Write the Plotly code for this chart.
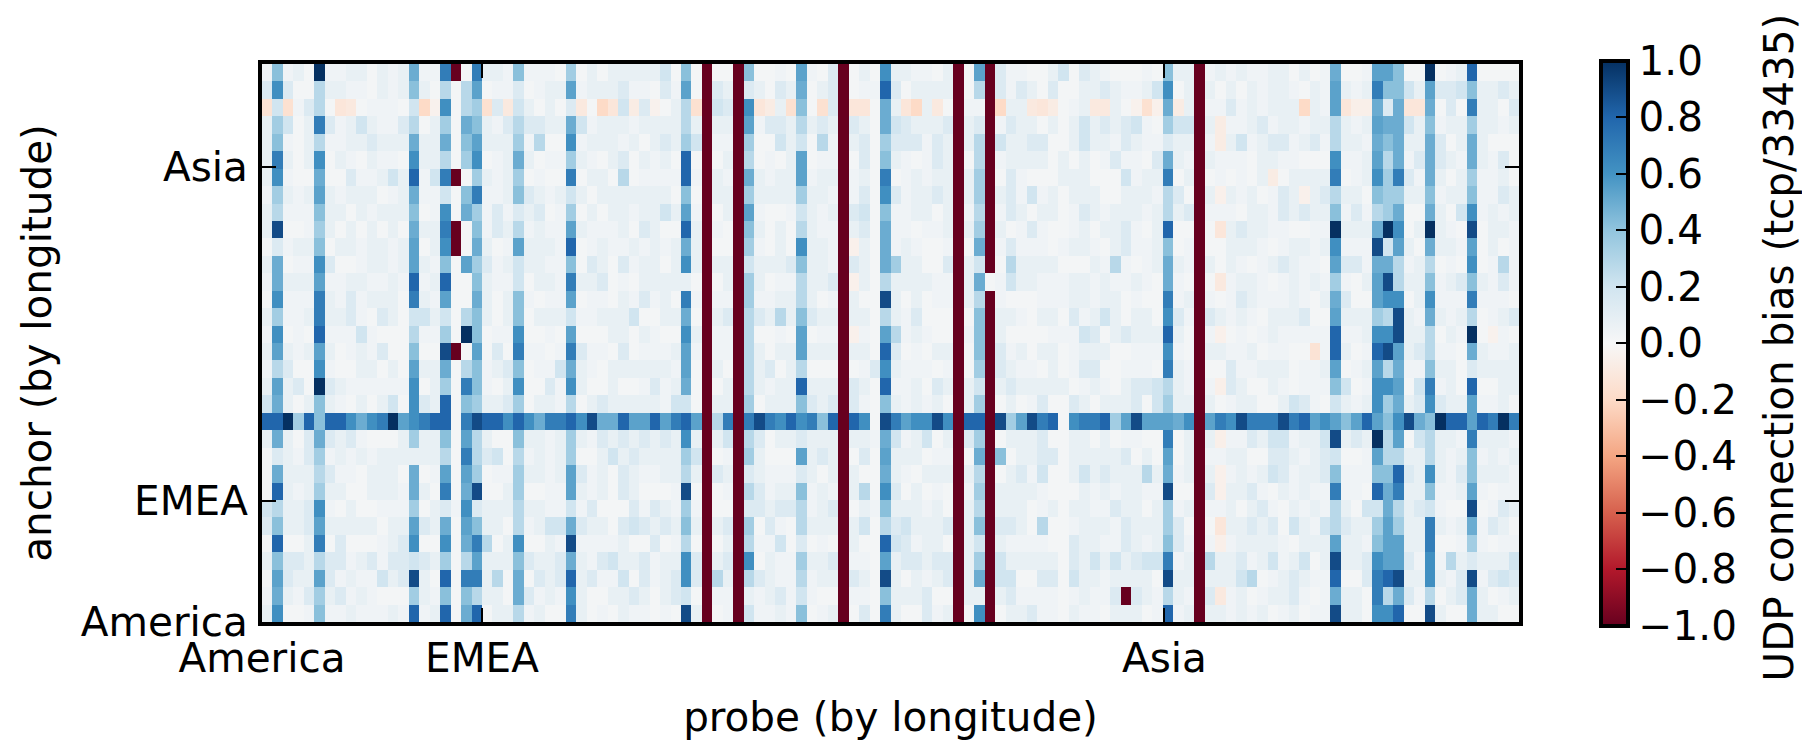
import plotly.graph_objects as go

# values in hundredths of the bias, rows listed from the top of the picture down
row_00 = [4,42,4,8,2,100,4,4,8,8,  2,8,4,8,50,4,4,70,-100,2,  70,8,8,4,42,4,4,4,2,35,  2,8,2,8,8,8,8,8,20,2,  42,2,-100,2,2,-100,42,2,2,4,  2,54,4,2,14,-100,2,8,2,62,  8,8,4,4,2,8,-100,2,54,-100,  14,4,4,2,2,8,20,2,14,8,  4,2,2,2,4,2,42,8,8,-100,  4,8,4,8,4,4,8,8,2,8,  2,4,50,2,2,4,54,54,42,2,  2,100,2,4,8,80,2,2,2,2]
row_01 = [14,62,14,2,2,28,8,8,4,4,  2,8,4,8,42,8,2,28,2,28,  54,2,4,4,14,2,4,8,8,54,  4,8,8,8,14,4,4,2,14,4,  54,2,-100,14,8,-100,14,8,2,14,  8,50,2,8,14,-100,2,4,4,80,  14,2,8,8,8,8,-100,2,28,-100,  14,4,14,8,2,14,2,2,8,8,  14,8,4,4,8,20,62,2,8,-100,  8,2,8,2,8,4,8,8,4,2,  8,4,54,8,4,8,70,42,42,20,  8,54,14,14,20,42,8,8,14,8]
row_02 = [-14,20,-16,4,14,28,2,-12,-10,2,  4,4,4,2,20,-20,-4,62,2,28,  35,-16,14,-10,20,8,2,8,2,14,  -10,2,-20,-12,20,-8,14,-4,2,8,  28,-16,-100,20,14,-100,62,-12,-8,8,  -16,42,2,-16,14,-100,-12,-12,2,50,  8,-12,-20,8,-10,2,-100,4,4,-100,  -20,8,8,-10,-12,-8,2,4,8,-10,  -10,8,2,-4,-16,-5,50,-8,8,-100,  4,4,14,4,8,4,8,8,8,-20,  8,4,54,-12,-6,-6,50,14,50,-12,  -12,50,2,14,2,70,8,8,2,14]
row_03 = [8,35,20,2,8,70,14,4,8,20,  8,4,4,14,28,2,8,35,2,50,  42,8,4,14,28,14,14,8,8,50,  20,4,8,8,8,4,8,8,8,8,  28,8,-100,8,8,-100,54,4,14,14,  8,28,8,14,8,-100,14,8,2,50,  20,14,8,8,8,14,-100,8,14,-100,  4,14,8,8,2,8,2,8,20,8,  14,8,14,20,4,2,35,20,20,-100,  8,-8,4,4,8,14,4,8,8,4,  8,8,28,8,4,8,54,50,50,20,  8,42,4,8,8,35,8,8,4,8]
row_04 = [8,42,4,2,8,28,4,4,8,8,  14,8,8,8,50,8,8,50,2,42,  54,8,8,8,35,4,28,2,2,62,  4,8,8,8,4,8,2,8,14,8,  35,20,-100,4,4,-100,35,2,2,20,  8,20,2,28,4,-100,8,14,2,35,  14,14,14,4,14,8,-100,8,28,-100,  20,8,8,14,14,2,2,8,20,8,  8,4,14,8,4,4,14,8,8,-100,  4,-8,8,20,4,8,14,14,4,8,  14,4,28,8,8,4,50,42,50,8,  8,50,14,2,8,50,8,2,2,2]
row_05 = [8,70,8,2,8,62,2,8,4,2,  8,4,4,2,62,8,8,28,2,35,  62,2,4,8,50,8,2,4,4,35,  8,4,2,8,14,2,8,4,8,2,  80,2,-100,2,8,-100,28,2,4,2,  8,54,2,4,4,-100,2,14,2,42,  8,4,2,4,14,8,-100,2,28,-100,  4,8,8,8,8,2,8,2,8,2,  4,14,4,4,2,14,50,8,4,-100,  8,4,4,4,2,8,8,4,4,2,  2,2,62,4,4,8,54,28,50,4,  14,50,14,8,4,50,8,4,14,2]
row_06 = [8,62,4,2,2,50,2,2,14,4,  4,8,20,8,80,4,20,70,-100,2,  35,8,4,8,35,2,4,2,2,70,  2,8,8,2,28,2,4,4,4,4,  80,4,-100,8,4,-100,50,8,4,8,  8,54,4,8,8,-100,4,8,2,70,  2,4,8,4,8,8,-100,8,35,-100,  2,14,4,2,2,2,8,8,8,2,  2,2,20,4,8,8,70,2,8,-100,  2,4,2,4,2,8,-8,2,8,8,  8,8,70,2,4,8,62,35,70,14,  4,50,8,2,8,35,4,4,8,2]
row_07 = [4,35,8,4,8,54,8,4,8,8,  8,2,4,8,50,4,4,20,2,42,  70,4,4,8,42,14,8,4,8,20,  8,2,8,8,8,8,8,8,8,2,  42,2,-100,8,8,-100,35,8,8,8,  8,35,8,8,4,-100,4,14,2,62,  14,4,8,8,14,8,-100,8,35,-100,  8,14,4,20,4,8,2,8,8,8,  2,2,8,8,8,4,28,14,2,-100,  8,-5,8,4,8,2,4,14,8,-5,  8,14,28,8,8,2,42,35,35,8,  8,42,4,8,8,42,4,4,14,8]
row_08 = [8,28,4,4,4,42,8,8,2,8,  4,8,8,8,42,2,4,62,2,50,  35,4,14,4,14,8,14,2,4,35,  2,8,2,8,8,4,8,8,20,8,  54,4,-100,2,8,-100,54,4,2,2,  4,20,8,4,8,-100,14,20,2,42,  4,4,8,8,2,8,-100,4,28,-100,  4,14,8,2,8,8,2,4,14,8,  4,8,8,8,4,8,28,8,14,-100,  4,4,4,2,8,8,4,14,8,14,  8,8,42,4,14,4,28,35,50,2,  2,50,8,2,20,62,4,8,4,8]
row_09 = [8,90,2,2,4,35,8,2,8,2,  8,2,8,2,50,8,8,70,-100,2,  42,4,14,8,28,4,8,4,4,54,  8,4,4,4,8,2,14,8,2,2,  80,8,-100,4,2,-100,42,8,2,8,  2,28,8,4,4,-100,8,14,2,50,  4,4,2,4,4,8,-100,8,35,-100,  8,2,4,14,4,2,2,4,8,2,  8,8,14,4,2,8,80,2,2,-100,  2,-12,8,14,8,8,4,4,2,2,  4,4,100,8,8,8,50,100,62,2,  8,100,8,4,2,90,2,8,8,4]
row_10 = [2,14,4,8,8,42,2,8,8,4,  8,8,4,8,54,2,8,62,-100,2,  50,8,2,4,54,8,8,8,4,80,  2,4,8,4,4,8,4,8,4,8,  50,8,-100,2,2,-100,35,4,2,8,  2,62,8,8,4,-100,-5,8,2,50,  4,8,4,2,2,4,-100,2,50,-100,  4,14,4,4,4,2,4,8,8,4,  2,8,14,4,4,8,42,2,4,-100,  2,2,8,8,8,4,2,4,8,8,  4,8,62,4,4,4,90,20,54,8,  2,50,8,8,4,54,2,8,2,4]
row_11 = [8,50,2,4,4,62,14,2,2,4,  8,8,4,8,54,8,4,42,2,54,  35,14,4,8,20,8,8,4,4,42,  2,14,8,2,14,4,8,8,2,8,  62,8,-100,8,8,-100,20,8,8,8,  14,42,8,8,4,-100,14,8,2,50,  35,8,8,2,2,14,-100,8,20,-100,  2,28,8,8,8,8,2,2,2,8,  4,28,4,2,4,8,50,8,4,-100,  8,2,8,4,2,4,8,14,8,4,  4,2,54,14,14,4,50,50,28,4,  8,28,2,4,2,62,2,4,28,4]
row_12 = [4,50,8,8,8,54,4,4,8,8,  4,4,8,4,80,4,8,80,2,2,  42,8,4,4,20,2,8,8,4,70,  8,8,14,2,4,2,8,8,8,8,  8,2,-100,2,8,-100,35,8,2,4,  4,28,8,8,14,-100,-5,8,2,28,  8,8,8,8,4,4,-100,8,50,2,  4,20,8,8,4,4,4,8,8,4,  8,4,4,8,4,2,50,4,2,-100,  2,-10,4,8,8,4,2,4,8,4,  8,4,35,4,2,8,54,90,28,8,  8,42,4,8,14,42,8,4,14,4]
row_13 = [2,62,4,4,4,70,8,4,14,4,  8,8,8,2,70,8,4,54,2,2,  50,8,2,8,42,4,2,4,4,54,  2,4,4,2,8,4,14,4,8,2,  70,4,-100,4,4,-100,35,4,4,8,  8,28,8,2,4,-100,8,2,2,90,  8,2,8,2,4,4,-100,8,28,-100,  4,2,2,2,4,4,4,8,8,4,  8,8,2,4,2,2,70,4,8,-100,  4,2,4,14,8,4,4,4,8,4,  2,8,50,14,2,2,54,62,62,2,  8,62,4,4,4,70,4,4,4,2]
row_14 = [8,35,4,4,8,70,8,8,14,4,  2,14,8,2,20,20,8,20,2,28,  42,8,2,8,42,2,8,8,8,20,  4,4,8,8,8,20,2,2,8,8,  50,2,-100,8,14,-100,28,14,8,28,  8,42,14,8,8,-100,8,8,2,28,  8,4,14,2,2,2,-100,2,42,-100,  8,8,4,2,8,8,2,14,4,8,  20,8,2,8,8,2,62,14,4,-100,  14,8,4,8,4,2,8,8,8,14,  2,2,54,8,8,8,35,28,90,8,  4,50,8,4,8,28,2,4,8,14]
row_15 = [4,62,2,4,2,80,4,4,4,20,  4,2,2,2,28,4,4,35,2,100,  42,2,4,4,62,2,2,4,2,54,  2,2,2,8,8,2,8,4,2,2,  62,8,-100,4,4,-100,28,2,2,4,  2,54,2,4,4,-100,-5,4,2,54,  28,4,8,4,2,2,-100,4,42,-100,  8,2,2,2,2,4,4,4,20,14,  2,8,14,8,8,8,80,8,2,-100,  4,-5,2,4,2,4,8,4,4,4,  4,4,80,4,4,8,62,62,90,8,  8,28,2,8,4,100,2,-4,4,2]
row_16 = [8,54,8,4,8,54,8,2,4,8,  4,14,2,2,42,2,2,90,-100,2,  54,2,14,2,70,4,4,2,4,70,  14,4,4,2,14,2,4,4,4,8,  54,4,-100,4,4,-100,28,8,2,8,  8,54,8,8,8,-100,8,8,2,80,  14,2,4,2,8,8,-100,2,42,-100,  14,4,8,2,8,8,2,4,8,8,  8,2,2,4,4,4,62,4,2,-100,  8,8,4,4,8,2,4,4,2,2,  -14,4,80,8,2,4,80,90,54,8,  14,28,4,4,2,50,8,4,4,8]
row_17 = [4,28,14,2,2,62,4,2,2,8,  8,2,8,2,54,8,8,50,2,28,  42,4,8,14,42,2,4,4,20,50,  8,4,2,8,8,8,8,8,8,4,  54,2,-100,8,2,-100,28,8,14,2,  8,28,2,2,2,-100,2,4,14,62,  8,4,4,4,2,4,-100,2,35,-100,  14,8,4,4,2,8,2,4,14,14,  2,2,4,4,4,2,70,8,4,-100,  2,2,14,4,4,8,8,8,2,4,  4,8,54,2,4,8,54,28,50,4,  4,42,8,8,2,14,8,8,8,8]
row_18 = [8,54,8,14,2,100,14,8,4,4,  4,4,4,4,62,2,8,35,2,70,  42,4,2,8,62,2,2,14,4,62,  8,2,2,8,2,2,4,14,4,8,  50,2,-100,2,8,-100,28,8,4,8,  8,80,8,8,8,-100,14,8,2,80,  4,4,8,2,14,8,-100,8,20,-100,  8,14,8,8,8,8,8,2,4,8,  4,2,8,14,14,20,28,8,4,-100,  4,-6,14,8,2,2,8,4,2,4,  4,4,42,20,2,4,62,62,54,2,  20,70,4,8,2,80,2,2,8,8]
row_19 = [20,50,8,2,8,42,8,4,2,8,  2,8,20,2,62,14,8,80,2,42,  35,8,8,14,35,2,8,8,4,28,  2,8,14,8,8,8,8,8,4,20,  20,2,-100,8,8,-100,35,2,8,8,  8,42,14,8,14,-100,14,4,2,42,  8,4,8,4,8,2,-100,8,35,-100,  2,8,2,4,14,2,2,14,8,2,  8,8,8,14,2,20,35,8,8,-100,  8,2,4,8,8,2,2,8,20,14,  4,2,20,8,4,8,62,35,50,8,  14,62,14,8,8,54,4,4,8,2]
row_20 = [80,80,100,35,80,42,80,80,62,50,  62,70,100,54,62,70,80,80,2,70,  90,80,80,62,80,62,50,70,70,80,  62,90,50,50,80,54,54,80,54,70,  80,54,-100,28,70,-100,70,90,70,62,  80,62,70,42,80,-100,80,62,2,90,  70,54,62,62,90,62,-100,80,80,-100,  90,35,54,90,70,80,2,62,70,70,  80,35,54,90,54,54,54,50,62,-100,  54,70,62,90,70,70,70,90,70,80,  54,62,54,42,54,80,54,42,62,90,  50,42,100,80,80,54,80,70,100,70]
row_21 = [8,50,8,2,14,50,14,8,14,4,  2,2,2,8,35,8,8,42,2,54,  28,8,2,2,42,8,8,4,8,35,  8,4,14,8,14,8,14,8,14,8,  62,8,-100,8,20,-100,28,14,2,8,  8,14,8,8,8,-100,8,8,4,50,  20,4,8,20,2,8,-100,14,35,-100,  2,8,8,8,14,2,2,8,8,2,  8,2,4,4,2,2,70,2,8,-100,  8,-6,4,4,14,8,20,20,4,8,  8,20,90,8,14,8,100,28,54,2,  20,28,8,8,4,70,8,8,8,4]
row_22 = [2,14,8,4,14,35,4,8,4,8,  4,8,8,8,8,8,8,28,2,70,  28,14,20,2,28,4,8,4,8,35,  2,2,8,20,8,14,8,8,8,8,  35,20,-100,2,4,-100,35,8,2,2,  2,54,8,14,8,-100,2,14,2,54,  8,8,8,2,4,4,-100,2,50,-100,  42,2,8,8,14,14,2,8,8,8,  8,8,14,2,8,2,54,2,8,-100,  4,4,8,8,2,2,14,14,8,4,  8,14,20,2,2,4,54,28,28,8,  8,28,8,4,8,42,4,8,4,8]
row_23 = [2,50,8,8,8,28,14,4,4,2,  8,8,8,2,50,2,4,54,2,54,  35,2,4,4,35,8,8,4,8,54,  14,4,8,2,14,8,4,4,8,8,  28,8,-100,14,8,-100,14,8,4,4,  4,14,8,2,8,-100,8,2,2,50,  8,4,2,8,8,8,-100,8,28,-100,  2,8,14,4,20,2,2,8,20,8,  14,8,8,8,28,8,50,4,8,-100,  8,-5,4,8,4,8,20,14,4,8,  8,14,42,4,4,4,42,42,80,14,  8,62,8,4,14,42,8,8,8,4]
row_24 = [2,80,8,4,8,35,8,8,2,2,  8,8,8,4,50,8,2,70,2,50,  90,2,2,8,35,2,2,4,4,54,  8,4,8,2,14,8,2,2,2,4,  90,2,-100,2,4,-100,28,14,4,8,  8,42,4,8,4,-100,8,28,2,62,  14,2,8,2,4,2,-100,4,35,-100,  8,8,8,8,4,2,2,2,8,4,  8,4,8,8,4,4,90,2,2,-100,  14,-5,8,8,14,4,2,8,4,8,  4,4,70,4,4,2,80,50,70,8,  8,42,4,4,8,54,4,2,4,4]
row_25 = [20,28,8,8,14,62,4,2,8,2,  2,4,4,4,35,2,8,14,4,62,  14,8,8,8,28,8,8,4,4,20,  4,14,2,2,2,14,4,14,8,4,  35,4,-100,2,2,-100,14,14,8,14,  14,28,4,8,14,-100,2,8,4,42,  8,8,8,4,8,2,-100,8,28,-100,  8,8,8,2,4,8,2,8,8,4,  4,14,8,8,2,8,35,4,8,-100,  4,4,8,2,8,14,4,2,8,4,  8,4,28,8,2,20,20,50,28,8,  14,20,4,2,2,90,2,4,14,8]
row_26 = [14,42,8,8,14,54,8,8,8,8,  8,2,8,8,54,14,8,50,2,54,  42,8,8,2,28,4,8,20,20,50,  14,8,8,2,14,20,14,8,14,8,  42,8,-100,8,14,-100,35,2,14,4,  2,28,8,8,8,-100,8,20,2,28,  14,20,8,8,8,14,-100,8,42,-100,  14,14,8,2,28,2,2,4,8,8,  8,4,14,8,8,8,35,14,2,-100,  2,-12,8,8,14,8,14,2,20,8,  4,20,28,14,8,8,35,54,35,8,  8,70,8,4,8,50,4,14,8,2]
row_27 = [2,80,2,2,8,70,2,14,2,2,  2,4,8,14,62,2,2,62,2,50,  70,28,2,8,62,2,2,8,4,90,  4,4,4,4,8,2,2,14,2,4,  28,2,-100,2,8,-100,28,4,4,20,  2,14,2,4,2,-100,8,2,2,80,  20,14,4,8,8,2,-100,8,20,-100,  8,4,4,4,4,2,2,14,8,8,  4,4,14,8,4,8,42,14,4,-100,  4,-6,4,8,8,8,8,4,2,8,  8,8,54,8,8,4,42,54,54,8,  8,70,2,2,4,35,4,2,4,4]
row_28 = [8,42,14,14,8,28,14,14,4,8,  14,4,14,14,20,14,8,35,2,28,  54,8,8,8,42,14,8,8,14,50,  8,4,14,20,8,8,14,4,8,8,  62,14,-100,8,14,-100,62,2,8,4,  4,35,8,8,14,-100,4,4,2,54,  8,14,14,8,14,14,-100,8,35,-100,  20,8,8,8,8,8,2,14,8,20,  8,20,8,14,20,20,70,4,8,-100,  28,8,8,14,4,8,20,4,8,20,  2,8,90,8,8,14,62,54,54,14,  4,62,4,28,8,14,8,8,8,20]
row_29 = [2,54,14,8,8,54,14,4,8,4,  4,20,8,14,90,8,2,80,2,70,  70,8,28,2,50,2,14,8,14,80,  8,14,4,4,20,2,14,4,8,14,  62,14,-100,28,8,-100,28,14,8,4,  4,28,4,8,8,-100,14,8,2,90,  8,2,8,4,8,14,-100,8,50,-100,  20,20,2,2,14,14,2,20,8,8,  4,8,8,8,8,2,90,8,8,-100,  8,8,8,20,28,2,4,8,14,8,  4,4,80,2,2,14,70,80,90,8,  8,62,8,4,14,90,4,14,20,14]
row_30 = [4,50,8,4,14,35,8,14,4,8,  4,2,2,2,35,8,4,42,2,42,  28,8,8,2,50,14,4,8,4,62,  8,2,2,8,8,14,8,2,8,14,  20,2,-100,4,4,-100,8,4,8,14,  4,20,4,2,2,-100,4,4,2,42,  8,8,8,14,2,2,-100,8,8,-100,  8,14,4,4,4,4,2,4,8,4,  4,14,-100,14,8,4,28,8,4,-100,  14,-10,4,8,2,4,8,8,14,4,  2,4,50,8,8,2,70,28,50,14,  4,28,2,8,14,50,8,2,4,8]
row_31 = [8,62,2,2,4,42,4,4,8,4,  4,4,8,4,80,4,8,80,2,50,  80,2,8,8,28,4,8,2,2,70,  8,2,4,2,8,4,4,2,4,2,  90,8,-100,2,4,-100,20,4,4,8,  4,42,2,4,8,-100,2,14,2,70,  8,2,2,14,4,8,-100,2,62,-100,  2,8,8,14,4,4,2,8,4,4,  2,8,8,8,2,4,80,4,8,-100,  8,8,4,8,4,8,2,4,8,2,  4,4,90,8,8,2,62,62,80,2,  2,90,8,2,2,50,8,8,2,2]

rows = [row_00,row_01,row_02,row_03,row_04,row_05,row_06,row_07,
        row_08,row_09,row_10,row_11,row_12,row_13,row_14,row_15,
        row_16,row_17,row_18,row_19,row_20,row_21,row_22,row_23,
        row_24,row_25,row_26,row_27,row_28,row_29,row_30,row_31]

x_tick_pos = [-0.5, 20.5, 85.65]
x_tick_text = ["America", "EMEA", "Asia"]
y_tick_pos = [-0.5, 6.44, 25.6]
y_tick_text = ["America", "EMEA", "Asia"]
bar_ticks = [1.0, 0.8, 0.6, 0.4, 0.2, 0.0, -0.2, -0.4, -0.6, -0.8, -1.0]

rdbu = ["#67001f","#b2182b","#d6604d","#f4a582","#fddbc7","#f7f7f7",
        "#d1e5f0","#92c5de","#4393c3","#2166ac","#053061"]
scale = [[i / 10, c] for i, c in enumerate(rdbu)]

n_rows = len(rows)
z = [[v / 100 for v in r] for r in rows]
y_idx = list(range(n_rows - 1, -1, -1))

W, H = 1802, 741
L, R, T, B = 262, 1519, 64, 622
FONT = "DejaVu Sans"
SIZE = 40.5

fig = go.Figure(go.Heatmap(
    z=z, y=y_idx, zmin=-1, zmax=1, colorscale=scale,
    colorbar=dict(
        x=(1601 - L) / (R - L), xanchor="left", xpad=0, ypad=0,
        y=0.5, yanchor="middle",
        len=1.012, lenmode="fraction", thickness=27, thicknessmode="pixels",
        outlinecolor="black", outlinewidth=4,
        ticks="inside", ticklen=14, tickwidth=2, tickcolor="black",
        tickvals=bar_ticks, tickformat=".1f", tickprefix="\u200a",
        tickfont=dict(family=FONT, size=SIZE, color="black"),
    ),
))
axis = dict(
    showgrid=False, zeroline=False, showline=True, linecolor="black", linewidth=4,
    mirror="ticks", ticks="inside", ticklen=14, tickwidth=2, tickcolor="black",
    tickfont=dict(family=FONT, size=SIZE, color="black"),
    tickmode="array", automargin=False,
)
fig.update_xaxes(axis, range=[-0.5, 119.5], tickvals=x_tick_pos, ticktext=x_tick_text,
                 tickangle=0, ticklabelstandoff=-3,
                 title=dict(text="probe (by longitude)", standoff=38,
                            font=dict(family=FONT, size=SIZE, color="black")))
fig.update_yaxes(axis, range=[-0.5, 31.5], tickvals=y_tick_pos, ticktext=y_tick_text,
                 ticklabelstandoff=2,
                 title=dict(text="anchor (by longitude)", standoff=18,
                            font=dict(family=FONT, size=SIZE, color="black")))
fig.update_layout(
    width=W, height=H, autosize=False,
    margin=dict(l=L, r=W - R, t=T, b=H - B, pad=0),
    paper_bgcolor="white", plot_bgcolor="white",
    font=dict(family=FONT, color="black"),
    annotations=[dict(
        text="UDP connection bias (tcp/33435)", textangle=-90, showarrow=False,
        xref="paper", yref="paper", x=(1778 - L) / (R - L), y=(B - 347.5) / (B - T),
        xanchor="center", yanchor="middle",
        font=dict(family=FONT, size=SIZE, color="black"),
    )],
)
fig.write_html("out.html", config=dict(displayModeBar=False),
               post_script="document.body.style.margin='0';document.documentElement.style.overflow='hidden';")
